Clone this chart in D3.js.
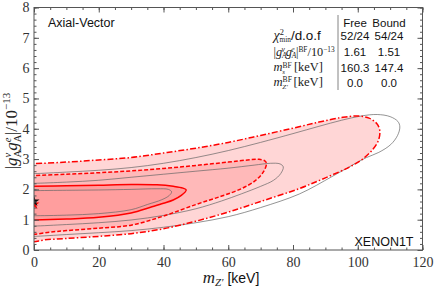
<!DOCTYPE html>
<html lang="en">
<head>
    <meta charset="UTF-8">
    <title>Axial-Vector XENON1T contours</title>
    <script src="https://d3js.org/d3.v7.min.js"></script>
    <style>
        body { margin: 0; background: #fff; }
        svg { display: block; }
        .tick text { font-family: "Liberation Serif", serif; font-size: 14px; fill: #333; }
        .tick line { stroke: #555; }
        .serif { font-family: "Liberation Serif", serif; fill: #222; }
        .sans { font-family: "Liberation Sans", sans-serif; fill: #111; }
    </style>
</head>
<body>
<svg id="chart"></svg>
<script>
    const W = 436, H = 290;
    const margin = { left: 34, right: 13.5, top: 7.5, bottom: 40 };

    // tick values
    const xMajor = [0, 20, 40, 60, 80, 100, 120];
    const xMinor = d3.range(0, 121, 5);
    const yMajor = [0, 1, 2, 3, 4, 5, 6, 7, 8];
    const yMinor = d3.range(0, 8.01, 0.2);

    // contours: [m_Z' (keV), |g g| / 1e-13]
    // each goes along the upper edge left->right, round the tip, back along the lower edge
    const free3 = [[0,2.85],[10,2.9],[20,2.97],[30,3.05],[40,3.2],[50,3.36],[60,3.55],[70,3.78],[80,4.02],[88,4.22],[95,4.37],[100,4.42],[103.5,4.35],[105.8,4.18],[106.8,3.95],
                   [106.4,3.62],[104.5,3.3],[101.5,3.0],[97.5,2.74],[90,2.38],[82,2.03],[70,1.6],[60,1.25],[50,0.95],[40,0.7],[30,0.54],[20,0.45],[10,0.38],[3,0.33],[0,0.27]];
    const free2 = [[0,2.46],[10,2.5],[20,2.55],[30,2.61],[40,2.69],[50,2.79],[60,2.9],[66,2.97],[69.5,2.99],[71.3,2.94],[71.8,2.86],
                   [71,2.6],[68.5,2.3],[64,2.02],[58,1.78],[50,1.5],[40,1.12],[30,0.82],[20,0.72],[10,0.64],[5,0.59],[0,0.52]];
    const free1 = [[0,2.1],[10,2.12],[20,2.14],[30,2.16],[38,2.15],[43,2.1],[46,2.04],[47,1.98],
                   [45.5,1.8],[43,1.65],[40,1.54],[36,1.41],[30,1.22],[20,1.08],[10,1.02],[0,0.99]];
    const bound3 = [[0,2.52],[10,2.57],[20,2.63],[30,2.72],[40,2.86],[50,3.05],[60,3.28],[70,3.55],[80,3.84],[88,4.08],[95,4.28],[101,4.42],[106,4.47],[110,4.4],[112.4,4.24],[113,4.06],
                    [112.3,3.78],[110.2,3.48],[106.5,3.22],[102.7,3.05],[97,2.72],[92,2.42],[82,1.85],[70,1.4],[60,1.1],[50,0.9],[40,0.75],[30,0.64],[20,0.57],[10,0.51],[0,0.45]];
    const bound2 = [[0,2.2],[10,2.24],[20,2.3],[30,2.4],[40,2.5],[50,2.6],[60,2.7],[68,2.8],[73,2.86],[76,2.84],[77,2.74],
                    [76.2,2.52],[74,2.3],[70,2.1],[64,1.85],[58,1.62],[50,1.36],[40,1.14],[30,0.99],[20,0.9],[10,0.84],[0,0.79]];
    const bound1 = [[0,1.96],[10,1.97],[20,1.98],[30,2.0],[38,2.02],[41.5,2.0],[42.5,1.92],
                    [41.8,1.8],[39.5,1.66],[35,1.5],[30,1.33],[20,1.2],[10,1.15],[0,1.13]];

    // best-fit points
    const bfFree = [0, 1.61];
    const bfBound = [0, 1.51];

    // summary table
    const tableCols = ["Free", "Bound"];
    const tableFree = ["52/24", "1.61", "160.3", "0.0"];
    const tableBound = ["54/24", "1.51", "147.4", "0.0"];

    const svg = d3.select("#chart").attr("width", W).attr("height", H);

    const x = d3.scaleLinear().domain([0, 120]).range([margin.left, W - margin.right]);
    const y = d3.scaleLinear().domain([0, 8]).range([H - margin.bottom, margin.top]);

    svg.append("clipPath").attr("id", "plot-clip")
        .append("rect")
        .attr("x", x(0)).attr("y", y(8))
        .attr("width", x(120) - x(0)).attr("height", y(0) - y(8));

    const line = d3.line()
        .x(d => x(d[0]))
        .y(d => y(d[1]))
        .curve(d3.curveCatmullRom.alpha(0.5));

    // run the open ends out past the left axis so the clip cuts them square
    const extend = pts => [[-3, pts[0][1]], ...pts, [-3, pts[pts.length - 1][1]]];

    const plot = svg.append("g").attr("clip-path", "url(#plot-clip)");

    const fills = [[free3, "#ffd6d6"], [free2, "#ffb9b9"], [free1, "#ff9e9e"]];
    fills.forEach(([pts, c]) => {
        plot.append("path").attr("d", line(extend(pts)) + "Z").attr("fill", c);
    });

    [bound3, bound2, bound1].forEach(pts => {
        plot.append("path").attr("d", line(extend(pts)))
            .attr("fill", "none").attr("stroke", "#666").attr("stroke-width", 0.7);
    });

    const redLines = [[free3, "6,2.2,1.5,2.2"], [free2, "4,2"], [free1, null]];
    redLines.forEach(([pts, dash]) => {
        plot.append("path").attr("d", line(extend(pts)))
            .attr("fill", "none").attr("stroke", "#ff0000").attr("stroke-width", 1.5)
            .attr("stroke-dasharray", dash);
    });

    const star = d3.symbol().type(d3.symbolStar).size(38);
    plot.append("path").attr("d", star())
        .attr("transform", `translate(${x(bfBound[0])},${y(bfBound[1])})`).attr("fill", "#ff0000");
    plot.append("path").attr("d", star())
        .attr("transform", `translate(${x(bfFree[0])},${y(bfFree[1])})`).attr("fill", "#111");

    // axes, ticks pointing inward on all four sides
    function drawAxis(axisFn, scale, pos, major, minor, labels) {
        const gMin = svg.append("g").attr("transform", pos)
            .call(axisFn(scale).tickValues(minor).tickSize(-2.5).tickFormat(""));
        const gMaj = svg.append("g").attr("transform", pos)
            .call(axisFn(scale).tickValues(major).tickSize(-5)
                .tickPadding(labels ? (axisFn === d3.axisBottom ? 7 : 4.5) : 0)
                .tickFormat(labels ? d3.format("d") : ""));
        gMin.select(".domain").remove();
        gMaj.select(".domain").remove();
    }
    drawAxis(d3.axisBottom, x, `translate(0,${y(0)})`, xMajor, xMinor, true);
    drawAxis(d3.axisTop, x, `translate(0,${y(8)})`, xMajor, xMinor, false);
    drawAxis(d3.axisLeft, y, `translate(${x(0)},0)`, yMajor, yMinor, true);
    drawAxis(d3.axisRight, y, `translate(${x(120)},0)`, yMajor, yMinor, false);

    svg.append("rect")
        .attr("x", x(0)).attr("y", y(8))
        .attr("width", x(120) - x(0)).attr("height", y(0) - y(8))
        .attr("fill", "none").attr("stroke", "#555").attr("stroke-width", 1);

    // axis titles
    const xt = svg.append("text").attr("x", 231).attr("y", 283).attr("text-anchor", "middle");
    xt.append("tspan").attr("class", "serif").attr("font-style", "italic").attr("font-size", 17).text("m");
    xt.append("tspan").attr("class", "serif").attr("font-style", "italic").attr("font-size", 11).attr("dy", 3).text("Z′");
    xt.append("tspan").attr("class", "sans").attr("font-size", 14).attr("dy", -3).text(" [keV]");

    const yt = svg.append("text").attr("class", "serif")
        .attr("transform", "translate(17,131) rotate(-90)")
        .attr("text-anchor", "middle").attr("font-size", 17);
    yt.append("tspan").text("|");
    yt.append("tspan").attr("font-style", "italic").text("g");
    yt.append("tspan").attr("font-size", 10.5).attr("dy", 4).text("A");
    yt.append("tspan").attr("font-size", 10.5).attr("font-style", "italic").attr("dx", -7.6).attr("dy", -10.5).text("ν");
    yt.append("tspan").attr("font-style", "italic").attr("dx", 2).attr("dy", 6.5).text("g");
    yt.append("tspan").attr("font-size", 10.5).attr("dy", 4).text("A");
    yt.append("tspan").attr("font-size", 10.5).attr("font-style", "italic").attr("dx", -7.6).attr("dy", -10.5).text("e");
    yt.append("tspan").attr("dx", 2.5).attr("dy", 6.5).text("|/10");
    yt.append("tspan").attr("font-size", 11).attr("dy", -7).text("−13");

    // corner labels
    svg.append("text").attr("class", "sans").attr("x", 48).attr("y", 26.5)
        .attr("font-size", 12.5).text("Axial-Vector");
    svg.append("text").attr("class", "sans").attr("x", 413.5).attr("y", 246)
        .attr("font-size", 12.5).attr("text-anchor", "end").text("XENON1T");

    // best-fit table
    const colX = [355, 389];
    const rowY = [40, 56, 71.5, 86.5];
    svg.append("line").attr("x1", 338).attr("x2", 338).attr("y1", 15).attr("y2", 90)
        .attr("stroke", "#666").attr("stroke-width", 0.8);
    tableCols.forEach((c, i) => {
        svg.append("text").attr("class", "sans").attr("x", colX[i]).attr("y", 27)
            .attr("font-size", 11.5).attr("text-anchor", "middle").text(c);
    });
    [tableFree, tableBound].forEach((col, i) => {
        col.forEach((v, j) => {
            svg.append("text").attr("class", "sans").attr("x", colX[i]).attr("y", rowY[j])
                .attr("font-size", 11.5).attr("text-anchor", "middle").text(v);
        });
    });

    // row labels, left-aligned; each is scaled after layout to the width seen in the picture
    const labX = 273.5;
    const fs = 12.5, ss = 7.5;
    function rowLabel(yy) {
        return svg.append("text").attr("class", "serif")
            .attr("x", labX).attr("y", yy).attr("font-size", fs);
    }
    function fitWidth(sel, yy, target) {
        const w = sel.node().getBBox().width;
        const k = Math.min(target / w, 1.12);
        sel.attr("transform", `translate(${labX},${yy}) scale(${k}) translate(${-labX},${-yy})`);
    }

    const r1 = rowLabel(rowY[0]);
    r1.append("tspan").attr("font-style", "italic").text("χ");
    r1.append("tspan").attr("font-size", ss).attr("dy", -4.5).text("2");
    r1.append("tspan").attr("font-size", 6.5).attr("dx", -3.8).attr("dy", 6.5).text("min");
    r1.append("tspan").attr("class", "sans").attr("font-size", 12).attr("dy", -2).text("/d.o.f");
    fitWidth(r1, rowY[0], 61);

    const r2 = rowLabel(rowY[1]);
    r2.append("tspan").text("|");
    r2.append("tspan").attr("font-style", "italic").text("g");
    r2.append("tspan").attr("font-size", ss).attr("font-style", "italic").attr("dy", 2).text("A");
    r2.append("tspan").attr("font-size", ss).attr("font-style", "italic").attr("dx", -5.2).attr("dy", -6.5).text("ν");
    r2.append("tspan").attr("font-style", "italic").attr("dx", 1).attr("dy", 4.5).text("g");
    r2.append("tspan").attr("font-size", ss).attr("font-style", "italic").attr("dy", 2).text("A");
    r2.append("tspan").attr("font-size", ss).attr("font-style", "italic").attr("dx", -5.2).attr("dy", -6.5).text("e");
    r2.append("tspan").attr("dx", 1.5).attr("dy", 4.5).text("|");
    r2.append("tspan").attr("font-size", ss).attr("dy", -4.5).text("BF");
    r2.append("tspan").attr("dy", 4.5).text("/10");
    r2.append("tspan").attr("font-size", ss).attr("dy", -4.5).text("−13");
    fitWidth(r2, rowY[1], 61.5);

    [["s", rowY[2]], ["Z′", rowY[3]]].forEach(([sub, yy]) => {
        const r = rowLabel(yy);
        r.append("tspan").attr("font-style", "italic").text("m");
        r.append("tspan").attr("font-size", ss).attr("dy", -4).text("BF");
        r.append("tspan").attr("font-size", 7).attr("font-style", "italic").attr("dx", -9.5).attr("dy", 6.5).text(sub);
        r.append("tspan").attr("dx", sub === "s" ? 6 : 2.5).attr("dy", -2.5).text(" [keV]");
        fitWidth(r, yy, 49.5);
    });
</script>
</body>
</html>
